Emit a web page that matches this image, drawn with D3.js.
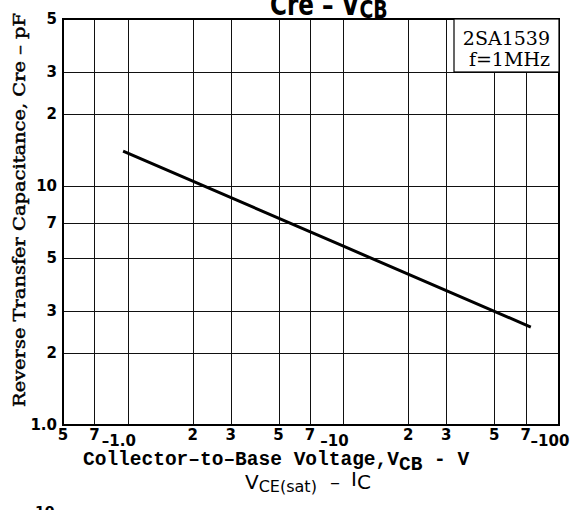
<!DOCTYPE html>
<html>
<body style="margin:0;background:white">
<style>
    body { margin:0; background:white; }
    svg { display:block; }
    .grid line { stroke:#111; stroke-width:1.1; shape-rendering:crispEdges; }
    .tick { font-family:"DejaVu Sans",sans-serif; font-weight:bold; font-size:15px; }
</style>

<svg id="view" width="571" height="510"></svg>

<script src="https://cdnjs.cloudflare.com/ajax/libs/d3/7.8.5/d3.min.js"></script>
<script>
    // axis ranges (|V_CB| in volts, Cre in pF)
    const xDomain = [0.5, 100];
    const yDomain = [1, 50];

    // gridlines
    const xGrid = [0.7, 1, 2, 3, 5, 7, 10, 20, 30, 50, 70];
    const yGrid = [2, 3, 5, 7, 10, 20, 30];

    // tick labels
    const xDigitTicks = [0.5, 0.7, 2, 3, 5, 7, 20, 30, 50, 70];
    const xDigitText  = ['5', '7', '2', '3', '5', '7', '2', '3', '5', '7'];
    const xDecadeTicks = [1, 10, 100];
    const xDecadeText  = ['–1.0', '–10', '–100'];
    const yTicks = [1, 2, 3, 5, 7, 10, 20, 30, 50];
    const yText  = ['1.0', '2', '3', '5', '7', '10', '2', '3', '5'];

    // curve Cre vs V_CB
    const vcb = [0.95, 10, 74];
    const cre = [14.0, 5.6, 2.57];

    const svg = d3.select('#view');
    const pLeft = 63, pRight = 559, pTop = 19, pBottom = 425;

    const x = d3.scaleLog().domain(xDomain).range([pLeft, pRight]);
    const y = d3.scaleLog().domain(yDomain).range([pBottom, pTop]);

    // grid
    const grid = svg.append('g').attr('class', 'grid');
    grid.selectAll('.vx').data(xGrid).enter().append('line')
        .attr('x1', d => Math.round(x(d)) + 0.5).attr('x2', d => Math.round(x(d)) + 0.5)
        .attr('y1', pTop).attr('y2', pBottom);
    grid.selectAll('.hy').data(yGrid).enter().append('line')
        .attr('y1', d => Math.round(y(d)) + 0.5).attr('y2', d => Math.round(y(d)) + 0.5)
        .attr('x1', pLeft).attr('x2', pRight);

    // frame
    svg.append('rect')
        .attr('x', pLeft).attr('y', pTop)
        .attr('width', pRight - pLeft).attr('height', pBottom - pTop)
        .attr('fill', 'none').attr('stroke', '#000').attr('stroke-width', 2);

    // y tick labels
    svg.selectAll('.yt').data(yTicks).enter().append('text')
        .attr('class', 'tick')
        .attr('x', 57)
        .attr('y', d => y(d) + 5)
        .attr('text-anchor', 'end')
        .text((d, i) => yText[i]);

    // x tick labels
    svg.selectAll('.xt').data(xDigitTicks).enter().append('text')
        .attr('class', 'tick')
        .attr('x', d => x(d))
        .attr('y', 440)
        .attr('text-anchor', 'middle')
        .text((d, i) => xDigitText[i]);
    svg.selectAll('.xd').data(xDecadeTicks).enter().append('text')
        .attr('class', 'tick')
        .attr('x', d => x(d) - 9)
        .attr('y', 446)
        .attr('text-anchor', 'middle')
        .text((d, i) => xDecadeText[i]);

    // curve
    const line = d3.line().x(d => x(d[0])).y(d => y(d[1]));
    svg.append('path')
        .datum(vcb.map((v, i) => [v, cre[i]]))
        .attr('d', line)
        .attr('fill', 'none')
        .attr('stroke', '#000')
        .attr('stroke-width', 3);

    // legend box
    const bx = 454, by = pTop, bw = pRight - bx, bh = Math.round(y(30)) - pTop;
    svg.append('rect')
        .attr('x', bx).attr('y', by).attr('width', bw).attr('height', bh)
        .attr('fill', 'white').attr('stroke', '#000').attr('stroke-width', 1.2);
    svg.append('text')
        .attr('x', 550).attr('y', 45)
        .attr('text-anchor', 'end')
        .style('font-family', '"DejaVu Serif",serif').style('font-size', '19px')
        .text('2SA1539');
    svg.append('text')
        .attr('x', 550).attr('y', 66)
        .attr('text-anchor', 'end')
        .style('font-family', '"DejaVu Serif",serif').style('font-size', '19px')
        .text('f=1MHz');

    // title (clipped at top)
    const title = svg.append('text')
        .attr('transform', 'translate(270,15) scale(1.05,1.35)')
        .style('font-family', '"DejaVu Sans",sans-serif')
        .style('font-weight', 'bold').style('font-size', '22px');
    title.append('tspan').text('Cre – V');
    title.append('tspan').attr('dy', 2).style('font-size', '18px').text('CB');

    // y axis label
    svg.append('text')
        .attr('transform', 'translate(25,210) rotate(-90)')
        .attr('text-anchor', 'middle')
        .attr('textLength', 394).attr('lengthAdjust', 'spacingAndGlyphs')
        .style('font-family', '"DejaVu Serif",serif')
        .style('font-size', '17px')
        .style('stroke', '#000').style('stroke-width', 0.45)
        .text('Reverse Transfer Capacitance, Cre – pF');

    // x axis label
    const xl = svg.append('text')
        .attr('x', 83).attr('y', 465)
        .style('font-family', '"Liberation Mono",monospace')
        .style('font-weight', 'bold').style('font-size', '19.5px');
    xl.append('tspan').text('Collector–to–Base Voltage,V');
    xl.append('tspan').attr('dy', 5).text('CB');
    xl.append('tspan').attr('dy', -5).text(' - V');

    // next chart title
    const t2 = svg.append('text')
        .attr('y', 489)
        .style('font-family', '"DejaVu Sans",sans-serif')
        .style('font-size', '20px');
    t2.append('tspan').attr('x', 245).text('V');
    t2.append('tspan').attr('dy', 3).style('font-size', '16px').text('CE(sat)');
    t2.append('tspan').attr('x', 330).attr('dy', -3).text('–');
    t2.append('tspan').attr('x', 351).attr('dy', -3).text('I');
    t2.append('tspan').attr('dy', 3).text('C');

    svg.append('text')
        .attr('x', 35).attr('y', 516)
        .style('font-family', '"DejaVu Sans",sans-serif')
        .style('font-weight', 'bold').style('font-size', '14px')
        .text('10');
</script>
</body>
</html>
